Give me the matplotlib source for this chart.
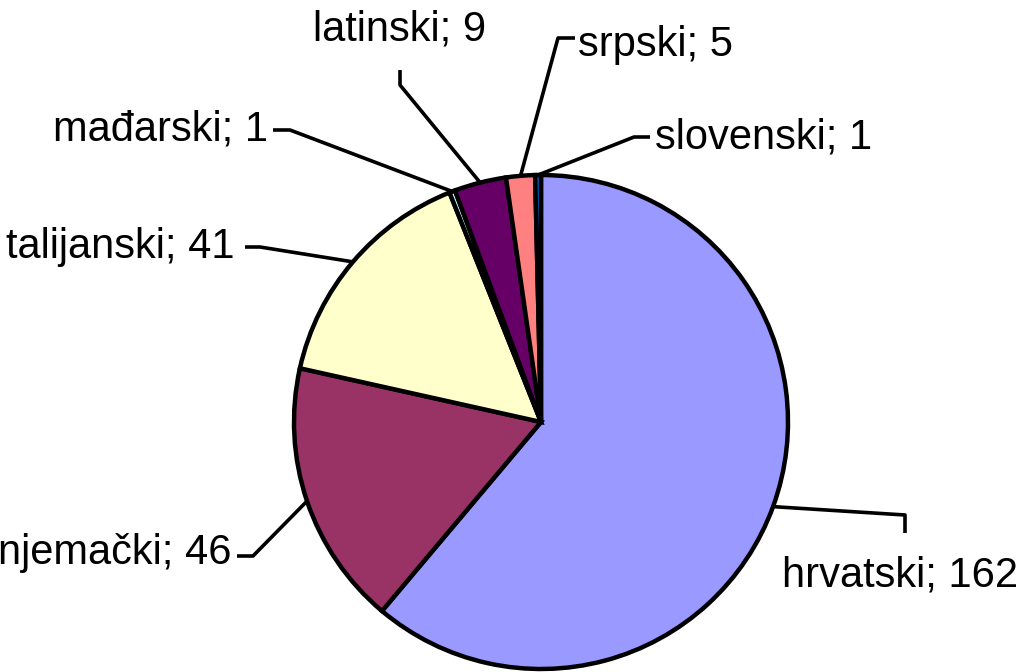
import numpy as np
import matplotlib.pyplot as plt

# Podaci
jezici = ["hrvatski", "njemački", "talijanski", "mađarski", "latinski", "srpski", "slovenski"]
broj = [162, 46, 41, 1, 9, 5, 1]
boje = ["#9999FF", "#993366", "#FFFFCC", "#CCFFFF", "#660066", "#FF8080", "#0066CC"]

# Raspored oznaka (pikseli slike, y prema dolje): tekst, lakat linije, poravnanje
tekst_xy = [(782, 575), (232, 553), (235, 247), (268, 130), (400, 30), (578, 45), (655, 138)]
lakat = [[(905, 515), (905, 533)], [(253, 556), (237, 556)], [(260, 247), (245, 247)],
         [(290, 130), (273, 130)], [(400, 85), (400, 70)], [(558, 38), (575, 38)],
         [(634, 137), (650, 137)]]
poravnanje = ["left", "right", "right", "right", "center", "left", "left"]

W, H = 1031, 672
fig = plt.figure(figsize=(W / 100, H / 100), dpi=100)
ax = fig.add_axes([0, 0, 1, 1])

cx, cy, r = 541, H - 422, 247
wedges, _ = ax.pie(broj, colors=boje, startangle=90, counterclock=False,
                   center=(cx, cy), radius=r, frame=True,
                   wedgeprops=dict(edgecolor="black", linewidth=3.2))
ax.set_xlim(0, W)
ax.set_ylim(0, H)
ax.axis("off")

for w, naziv, n, (tx, ty), pts, ha in zip(wedges, jezici, broj, tekst_xy, lakat, poravnanje):
    kut = np.deg2rad((w.theta1 + w.theta2) / 2)
    ax0 = cx + r * np.cos(kut)
    ay0 = cy + r * np.sin(kut)
    xs = [ax0] + [p[0] for p in pts]
    ys = [ay0] + [H - p[1] for p in pts]
    ax.plot(xs, ys, color="black", linewidth=2.6, solid_capstyle="butt", zorder=5)
    ax.text(tx, H - ty, f"{naziv}; {n}", fontsize=30, family="Liberation Sans",
            ha=ha, va="center", color="black")

fig.savefig("out.png", dpi=100)
